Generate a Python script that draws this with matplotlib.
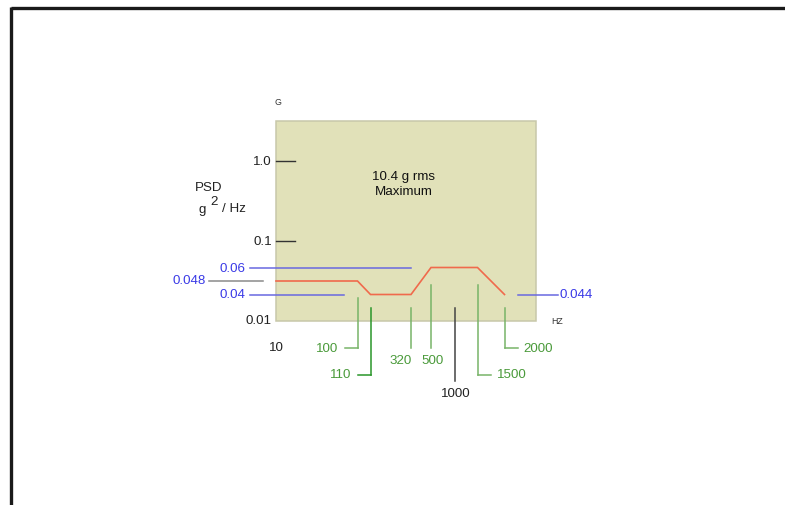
import numpy as np
import matplotlib
matplotlib.use("Agg")
import matplotlib.pyplot as plt
from matplotlib.patches import Rectangle

plt.rcParams['font.family'] = ['Liberation Sans', 'DejaVu Sans']

# ---------------- data ----------------
freq_breaks = [10, 100, 110, 320, 500, 1000, 1500, 2000]      # Hz
profile_freq = [10, 100, 110, 320, 500, 1500, 2000]            # red PSD profile
profile_psd = [0.048, 0.048, 0.04, 0.04, 0.06, 0.06, 0.044]   # g^2/Hz
psd_ticks = [1.0, 0.1, 0.01]
psd_tick_labels = ["1.0", "0.1", "0.01"]
grms_lines = ["10.4 g rms", "Maximum"]

# ---------------- schematic layout (pixel positions of the drawing) ----------------
W, H = 785, 506
x_knots_freq = [10, 100, 110, 320, 500, 1000, 1500, 2000, 2600]
x_knots_px = [276, 357.5, 370.5, 411, 431, 454.5, 477.5, 504.5, 535.5]
y_knots_psd = [0.01, 0.04, 0.044, 0.048, 0.06, 0.1, 1.0, 2.5]
y_knots_px = [321.5, 295.5, 295.5, 282, 268.5, 242.3, 161.7, 122]


def xpos(f):
    return np.interp(np.log10(f), np.log10(x_knots_freq), x_knots_px)


def ypos(p):
    p = np.asarray(p, dtype=float)
    lk = np.log10(y_knots_psd)
    return np.interp(np.log10(p), lk, y_knots_px)


fig = plt.figure(figsize=(W / 100, H / 100), dpi=100)
ax = fig.add_axes([0, 0, 1, 1])
ax.set_xlim(0, W)
ax.set_ylim(H, 0)
ax.axis("off")

# outer frame (top and left edges)
ax.plot([11, W + 5], [9, 9], color="#1a1a1a", lw=2.4, solid_capstyle="butt")
ax.plot([11, 11], [8, H + 5], color="#1a1a1a", lw=2.4, solid_capstyle="butt")

# plot box
x0, x1 = xpos(10), xpos(2600)
y0, y1 = ypos(2.5), ypos(0.01)
ax.add_patch(Rectangle((x0, y0), x1 - x0, y1 - y0, facecolor="#e1e1b9",
                       edgecolor="#c8c8aa", lw=1.1))

fs = 9.6
BLUE = "#3a3ae6"
BLUE_LINE = "#6868e0"
GREEN_T = "#4a9a3a"
GREEN_L = "#78b468"
GREEN_D = "#2a962a"

# y ticks
for v, lab in zip(psd_ticks, psd_tick_labels):
    yy = float(ypos(v))
    if v != 0.01:
        ax.plot([x0, x0 + 19], [yy, yy], color="#333333", lw=1.0)
    ax.text(x0 - 4, yy, lab, ha="right", va="center", fontsize=fs, color="#222222")

ax.text(x0, 348, "10", ha="center", va="center", fontsize=fs, color="#222222")
ax.text(278, 102, "G", ha="center", va="center", fontsize=6.3, color="#333333")
ax.text(557, 322, "HZ", ha="center", va="center", fontsize=6.3, color="#333333")

# axis label
ax.text(209, 188, "PSD", ha="center", va="center", fontsize=fs, color="#222222")
ax.text(202, 210, "g", ha="center", va="center", fontsize=fs, color="#222222")
ax.text(214, 202, "2", ha="center", va="center", fontsize=fs, color="#222222")
ax.text(234, 209.5, "/ Hz", ha="center", va="center", fontsize=fs, color="#222222")

for i, line in enumerate(grms_lines):
    ax.text(404, 176.5 + 15.5 * i, line, ha="center", va="center", fontsize=fs,
            color="#111111")

# PSD profile
ax.plot(xpos(profile_freq), ypos(profile_psd), color="#f06a4c", lw=1.2,
        solid_joinstyle="miter")

# PSD level callouts
y06 = float(ypos(0.06)); y048 = float(ypos(0.048))
y04 = float(ypos(0.04)); y044 = float(ypos(0.044))
ax.plot([250, xpos(320)], [y06, y06], color=BLUE_LINE, lw=1.1)
ax.text(245, y06, "0.06", ha="right", va="center", fontsize=fs, color=BLUE)
ax.plot([209, 263], [y048, y048], color="#8a8a8a", lw=1.1)
ax.text(205.5, y048 - 1, "0.048", ha="right", va="center", fontsize=fs, color=BLUE)
ax.plot([250, 344], [y04, y04], color=BLUE_LINE, lw=1.1)
ax.text(245, y04 - 1, "0.04", ha="right", va="center", fontsize=fs, color=BLUE)
ax.plot([518, 558], [y044, y044], color=BLUE_LINE, lw=1.1)
ax.text(560, y044 - 0.5, "0.044", ha="left", va="center", fontsize=fs, color=BLUE)

# frequency callouts: (freq, y_top, y_bottom, elbow, colours)
callouts = [
    (100, 299, 349, "left", GREEN_L, GREEN_T),
    (110, 309, 376, "left", GREEN_D, GREEN_T),
    (320, 309, 349, "below", GREEN_L, GREEN_T),
    (500, 286, 349, "below", GREEN_L, GREEN_T),
    (1000, 309, 382, "below", "#444444", "#222222"),
    (1500, 286, 376, "right", GREEN_L, GREEN_T),
    (2000, 309, 349, "right", GREEN_L, GREEN_T),
]
for f, yt, yb, mode, lc, tc in callouts:
    xx = float(xpos(f))
    ax.plot([xx, xx], [yt, yb], color=lc, lw=1.1)
    lab = str(f)
    if mode == "left":
        ax.plot([xx - 13, xx], [yb, yb], color=lc, lw=1.1)
        ax.text(xx - 19, yb - 0.5, lab, ha="right", va="center", fontsize=fs, color=tc)
    elif mode == "right":
        ax.plot([xx, xx + 13], [yb, yb], color=lc, lw=1.1)
        ax.text(xx + 19, yb - 0.5, lab, ha="left", va="center", fontsize=fs, color=tc)
    else:
        dx = -10 if f == 320 else (2 if f == 500 else 1.5)
        ax.text(xx + dx, yb + 12, lab, ha="center", va="center", fontsize=fs, color=tc)

fig.savefig("out.png", dpi=100, facecolor="white")
